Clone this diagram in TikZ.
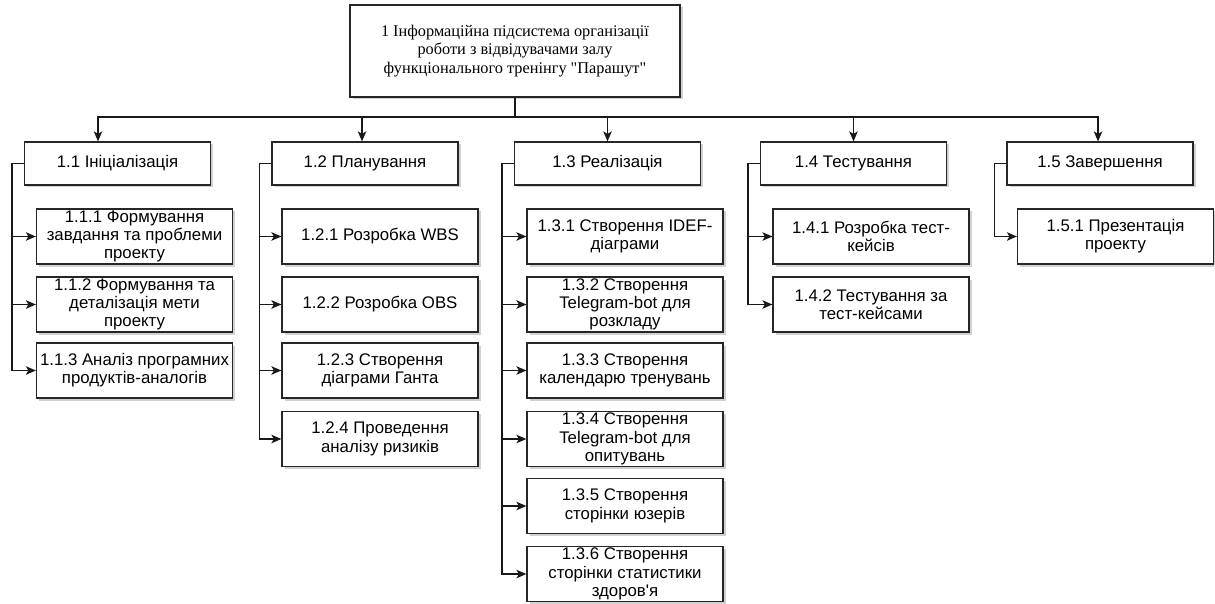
\documentclass[tikz,border=0pt]{standalone}
\usepackage{fontspec}
\newfontfamily\wbsserif{Liberation Serif}
\newfontfamily\wbssans{Liberation Sans}
\usetikzlibrary{arrows.meta,shadows}
\begin{document}
\begin{tikzpicture}[x=1pt,y=-1pt,
  box/.style={draw=black!85, line width=1.2pt, fill=white, inner sep=0pt, align=center,
    drop shadow={shadow xshift=2.5pt, shadow yshift=-2.5pt, fill=black, opacity=0.18}},
  rootbox/.style={box, minimum width=330pt, minimum height=92pt,
    font=\wbsserif\fontsize{16.3}{18.6}\selectfont},
  phase/.style={box, minimum width=186pt, minimum height=43pt,
    font=\wbssans\fontsize{16.8}{18.6}\selectfont},
  task/.style={box, minimum width=196pt, minimum height=55pt,
    font=\wbssans\fontsize{16.8}{18.3}\selectfont},
  link/.style={draw=black!90, line width=1.3pt},
  arr/.style={link, -{Stealth[length=10pt,width=8.5pt,inset=2.5pt]}}
]
\useasboundingbox (0,0) rectangle (1215,604);

% root
\node[rootbox] (r) at (515,51) {1 Інформаційна підсистема організації\\роботи з відвідувачами залу\\функціонального тренінгу "Парашут"};

% phases
\node[phase] (p1) at (117.5,163.5) {1.1 Ініціалізація};
\node[phase] (p2) at (365,163.5) {1.2 Планування};
\node[phase] (p3) at (607.5,163.5) {1.3 Реалізація};
\node[phase] (p4) at (853.5,163.5) {1.4 Тестування};
\node[phase] (p5) at (1100,163.5) {1.5 Завершення};

% tasks of 1.1
\node[task] (t11) at (134.5,236.5) {1.1.1 Формування\\завдання та проблеми\\проекту};
\node[task] (t12) at (134.5,304.5) {1.1.2 Формування та\\деталізація мети\\проекту};
\node[task] (t13) at (134.5,370.5) {1.1.3 Аналіз програмних\\продуктів-аналогів};

% tasks of 1.2
\node[task] (t21) at (380,236.5) {1.2.1 Розробка WBS};
\node[task] (t22) at (380,304.5) {1.2.2 Розробка OBS};
\node[task] (t23) at (380,370.5) {1.2.3 Створення\\діаграми Ганта};
\node[task] (t24) at (380,439) {1.2.4 Проведення\\аналізу ризиків};

% tasks of 1.3
\node[task] (t31) at (625,236.5) {1.3.1 Створення IDEF-\\діаграми};
\node[task] (t32) at (625,304.5) {1.3.2 Створення\\Telegram-bot для\\розкладу};
\node[task] (t33) at (625,370.5) {1.3.3 Створення\\календарю тренувань};
\node[task] (t34) at (625,439) {1.3.4 Створення\\Telegram-bot для\\опитувань};
\node[task] (t35) at (625,506) {1.3.5 Створення\\сторінки юзерів};
\node[task] (t36) at (625,574) {1.3.6 Створення\\сторінки статистики\\здоров'я};

% tasks of 1.4
\node[task] (t41) at (871,236.5) {1.4.1 Розробка тест-\\кейсів};
\node[task] (t42) at (871,304.5) {1.4.2 Тестування за\\тест-кейсами};

% tasks of 1.5
\node[task] (t51) at (1115.5,236.5) {1.5.1 Презентація\\проекту};

% root to phases
\coordinate (bus) at (515,117);
\draw[link] (r.south) -- (bus);
\draw[arr] (bus) -| ([xshift=-19.5pt]p1.north);
\draw[arr] (bus) -| ([xshift=-3pt]p2.north);
\draw[arr] (bus) -| (p3.north);
\draw[arr] (bus) -| (p4.north);
\draw[arr] (bus) -| ([xshift=-2pt]p5.north);

% phases to tasks
\foreach \p/\tl in {p1/{t11,t12,t13}, p2/{t21,t22,t23,t24},
                    p3/{t31,t32,t33,t34,t35,t36}, p4/{t41,t42}, p5/{t51}}{
  \foreach \t in \tl {
    \draw[arr] (\p.west) -- ++(-12,0) |- (\t.west);
  }
}
\end{tikzpicture}
\end{document}
